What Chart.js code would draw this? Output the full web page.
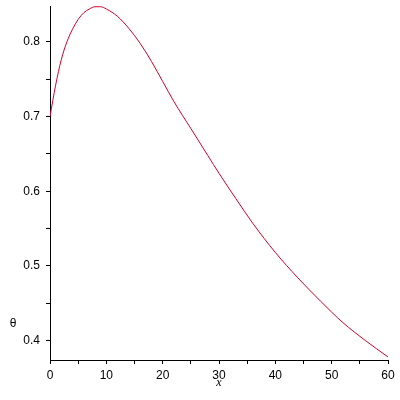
<!DOCTYPE html>
<html>
<head>
<meta charset="utf-8">
<script src="https://cdn.jsdelivr.net/npm/chart.js@4.4.1/dist/chart.umd.min.js"></script>
<style>
  html, body { margin: 0; padding: 0; background: #fff; }
  #wrap { width: 400px; height: 400px; }
</style>
</head>
<body>
<div id="wrap"><canvas id="thetaChart"></canvas></div>
<script>
// values
const xValues = [0, 1, 2, 3, 4, 5, 6, 7, 8, 9, 10, 12, 14, 16, 18, 20, 22, 25, 28, 30, 33, 36, 40, 44, 48, 52, 56, 60];
const thetaValues = [0.700, 0.742, 0.776, 0.800, 0.817, 0.830, 0.839, 0.844, 0.847, 0.847, 0.844, 0.834, 0.818, 0.798,
    0.774, 0.747, 0.720, 0.684, 0.648, 0.624, 0.590, 0.557, 0.518, 0.484, 0.453, 0.424, 0.400, 0.378];
const xRange = [0, 60];
const yRange = [0.374, 0.848];

const points = xValues.map((x, i) => ({ x: x, y: thetaValues[i] }));

// theta label sits left of the axis, not rotated
const thetaLabel = {
    id: 'thetaLabel',
    afterDraw(chart) {
        const c = chart.ctx;
        c.save();
        c.font = '12px "Liberation Sans"';
        c.fillStyle = '#000';
        c.textAlign = 'center';
        c.textBaseline = 'middle';
        c.fillText('θ', 13, 324);
        c.restore();
    }
};

const ctx = document.getElementById('thetaChart').getContext('2d');
new Chart(ctx, {
    type: 'line',
    data: {
        datasets: [{
            data: points,
            borderColor: 'rgb(210, 0, 40)',
            borderWidth: 1,
            pointRadius: 0,
            fill: false,
            cubicInterpolationMode: 'monotone'
        }]
    },
    options: {
        responsive: true,
        maintainAspectRatio: false,
        animation: false,
        layout: { padding: { top: 6, right: 12, left: 0, bottom: 0 } },
        scales: {
            x: {
                type: 'linear',
                min: xRange[0],
                max: xRange[1],
                border: { color: '#000', width: 1 },
                grid: { drawOnChartArea: false, color: '#000', tickLength: 4 },
                ticks: {
                    stepSize: 5,
                    includeBounds: false,
                    color: '#000',
                    padding: 4,
                    maxRotation: 0,
                    autoSkip: false,
                    font: { family: 'Liberation Sans', size: 12 },
                    callback: function(value) {
                        return value % 10 === 0 ? String(value) : '';
                    }
                },
                title: {
                    display: true,
                    text: 'x',
                    color: '#000',
                    padding: { top: 0, bottom: 10 },
                    font: { family: 'Liberation Serif', size: 12, style: 'italic' }
                },
                afterFit: function(scale) { scale.height = 40; }
            },
            y: {
                type: 'linear',
                min: yRange[0],
                max: yRange[1],
                border: { color: '#000', width: 1 },
                grid: { drawOnChartArea: false, color: '#000', tickLength: 4 },
                ticks: {
                    stepSize: 0.05,
                    includeBounds: false,
                    color: '#000',
                    padding: 6,
                    autoSkip: false,
                    font: { family: 'Liberation Sans', size: 12 },
                    callback: function(value) {
                        const v = value * 10;
                        return Math.abs(v - Math.round(v)) < 1e-6 ? value.toFixed(1) : '';
                    }
                },
                afterFit: function(scale) {
                    scale.width = 50;
                    scale.paddingTop = 0;
                    scale.paddingBottom = 0;
                }
            }
        },
        plugins: {
            legend: { display: false },
            tooltip: { enabled: false }
        }
    },
    plugins: [thetaLabel]
});
</script>
</body>
</html>
